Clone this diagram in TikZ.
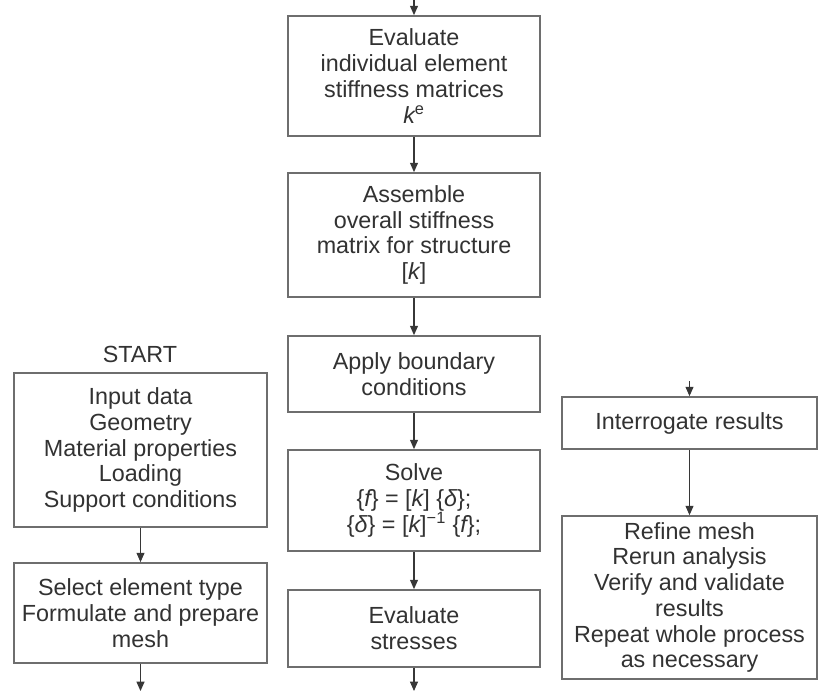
\documentclass[tikz,border=0pt]{standalone}
\usepackage{fontspec}
\setmainfont{Liberation Sans}
\usepackage{xcolor}
\usepackage{tikz}
\usetikzlibrary{positioning,arrows.meta}
\definecolor{boxgray}{RGB}{110,110,110}
\definecolor{textgray}{RGB}{50,50,50}
\definecolor{linegray}{RGB}{55,55,55}
\tikzset{
  step-node/.style={draw=boxgray, line width=1.3pt, fill=white,
    minimum width=189pt, font=\fontsize{17.5}{19.3}\selectfont, text=textgray,
    align=center, inner sep=3pt},
  flow-arrow/.style={-{Triangle[length=7pt, width=6pt]}, line width=0.8pt, draw=linegray},
  start-text/.style={font=\fontsize{17.5}{19.3}\selectfont, text=textgray}
}
\newcommand{\iv}[1]{{\itshape #1}}

\begin{document}
\begin{tikzpicture}[x=0.75pt, y=-0.75pt]
\useasboundingbox (0,0) rectangle (824,691);

% Left column
\node[start-text] (start) at (140,354) {START};
\node[step-node, minimum width=190pt, minimum height=115.5pt] (input) at (140.5,450)
  {Input data\\Geometry\\Material properties\\Loading\\Support conditions};
\node[step-node, minimum width=190pt, minimum height=75pt] (select) at (140.5,613)
  {Select element type\\Formulate and prepare\\mesh};
\coordinate (leftout) at (140.5,691);

% Middle column
\coordinate (midin) at (414,0);
\node[step-node, minimum height=90pt] (evalk) at (414,76)
  {Evaluate\\individual element\\stiffness matrices\\\iv{k}\textsuperscript{e}};
\node[step-node, minimum height=93pt] (assemble) at (414,235)
  {Assemble\\overall stiffness\\matrix for structure\\{[}\iv{k}{]}};
\node[step-node, minimum height=57pt] (apply) at (414,374)
  {Apply boundary\\conditions};
\node[step-node, minimum height=75.75pt] (solve) at (414,500.5)
  {Solve\\\{\iv{f}\} = [\iv{k}] \{\iv{δ}\};\\\{\iv{δ}\} = [\iv{k}]\textsuperscript{−1} \{\iv{f}\};};
\node[step-node, minimum height=57.75pt] (stresses) at (414,628.5)
  {Evaluate\\stresses};
\coordinate (midout) at (414,691);

% Right column
\coordinate (rightin) at (689.5,381);
\node[step-node, minimum width=191pt, minimum height=39pt] (interrogate) at (689.5,423)
  {Interrogate results};
\node[step-node, minimum width=191pt, minimum height=122.25pt] (refine) at (689.5,597.5)
  {Refine mesh\\Rerun analysis\\Verify and validate\\results\\Repeat whole process\\as necessary};

% Connectors
\draw[flow-arrow] (input) -- (select);
\draw[flow-arrow] (select) -- (leftout);
\draw[flow-arrow] (midin) -- (evalk);
\draw[flow-arrow] (evalk) -- (assemble);
\draw[flow-arrow] (assemble) -- (apply);
\draw[flow-arrow] (apply) -- (solve);
\draw[flow-arrow] (solve) -- (stresses);
\draw[flow-arrow] (stresses) -- (midout);
\draw[flow-arrow] (rightin) -- (interrogate);
\draw[flow-arrow] (interrogate) -- (refine);
\end{tikzpicture}
\end{document}
